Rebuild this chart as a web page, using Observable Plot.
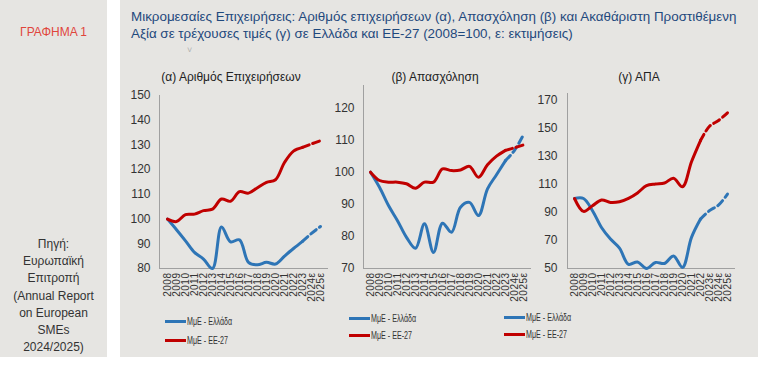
<!DOCTYPE html>
<html><head><meta charset="utf-8">
<script src="https://cdn.jsdelivr.net/npm/d3@7"></script>
<script src="https://cdn.jsdelivr.net/npm/@observablehq/plot@0.6"></script>
<style>
body{margin:0;background:#fff;font-family:Arial,"Liberation Sans",sans-serif;}
#wrap{position:relative;width:765px;height:365px;overflow:hidden;background:#fff;}
.box{position:absolute;background:#e6e5e2;}
.abs{position:absolute;white-space:nowrap;}
.leg{position:absolute;display:flex;align-items:center;height:12px;font-size:10.5px;color:#333;white-space:nowrap;}
.leg span.sw{display:inline-block;width:21px;height:3px;margin-right:1px;}
.leg span.tx{display:inline-block;transform:scaleX(0.68);transform-origin:left center;}
svg{position:absolute;overflow:visible;}
</style></head><body>
<div id="wrap">
  <div class="box" style="left:0;top:0;width:107px;height:357px;"></div>
  <div class="box" style="left:120px;top:0;width:638px;height:357px;"></div>
</div>
<script>
// ---- data ----
const labelsAB = ["2008","2009","2010","2011","2012","2013","2014","2015","2016","2017","2018","2019","2020","2021","2022","2023","2024ε","2025ε"];
const labelsC  = ["2008","2009","2010","2011","2012","2013","2014","2015","2016","2017","2018","2019","2020","2021","2022","2023ε","2024ε","2025ε"];
const aGreece = [100, 95.7, 91.2, 86.5, 83.8, 80, 96.8, 90.8, 91.6, 82.5, 81.5, 82.5, 81.8, 85, 88.1, 91, 94.2, 97];
const aEU     = [100, 99, 101.8, 102, 103.4, 104, 108.1, 107.2, 111.1, 110.5, 112.7, 114.8, 115.9, 122.9, 127.5, 129, 130.4, 131.7];
const bGreece = [100, 95.3, 89.6, 84.9, 79.7, 76.3, 83.9, 75, 84.1, 81.3, 89.1, 90.6, 86.5, 94.8, 99.2, 103.6, 106.8, 111.7];
const bEU     = [100, 97.4, 96.9, 96.9, 96.4, 95, 96.9, 96.9, 101, 100.5, 100.7, 101.8, 98.4, 102.3, 105, 106.8, 107.6, 108.5];
const cGreece = [100, 100, 91.3, 79.3, 71, 64.5, 53, 54.7, 50, 54.3, 53.6, 59, 50.8, 72.2, 85.3, 91.3, 95.3, 103.2];
const cEU     = [100, 90.8, 94.8, 98.9, 97.2, 97.7, 100.1, 104, 109.2, 110.4, 111.1, 114.4, 108.4, 126.3, 141.4, 151.6, 155.7, 161.2];
const seriesNames = ["ΜμΕ - Ελλάδα", "ΜμΕ - ΕΕ-27"];
const seriesColors = ["#2e75b6", "#c00000"];
const panelTitles = ["(α) Αριθμός Επιχειρήσεων", "(β) Απασχόληση", "(γ) ΑΠΑ"];
const titleLines = ["Μικρομεσαίες Επιχειρήσεις: Αριθμός επιχειρήσεων (α), Απασχόληση (β) και Ακαθάριστη Προστιθέμενη",
                    "Αξία σε τρέχουσες τιμές (γ) σε Ελλάδα και ΕΕ-27 (2008=100, ε: εκτιμήσεις)"];
const chartLabel = "ΓΡΑΦΗΜΑ 1";
const sourceLines = ["Πηγή:", "Ευρωπαϊκή", "Επιτροπή", "(Annual Report", "on European", "SMEs", "2024/2025)"];
const ticksA = [80, 90, 100, 110, 120, 130, 140, 150];
const ticksB = [70, 80, 90, 100, 110, 120];
const ticksC = [50, 70, 90, 110, 130, 150, 170];

const wrap = document.getElementById("wrap");
const FONT = "Arial, 'Liberation Sans', sans-serif";

function addDiv(html, style, cls = "abs") {
  const d = document.createElement("div");
  d.className = cls;
  d.innerHTML = html;
  Object.assign(d.style, style);
  wrap.appendChild(d);
  return d;
}

function panel(o) {
  const rows = (vals, s) => vals.map((v, i) => ({label: o.labels[i], value: v, s, i}));
  const series = [rows(o.greece, 0), rows(o.eu, 1)];
  const marks = [
    Plot.frame({anchor: "left", stroke: "#a0a0a0"}),
    Plot.frame({anchor: "bottom", stroke: "#a0a0a0"}),
    Plot.axisY({ticks: o.ticks, tickSize: 0, tickPadding: o.tickPadding, fontSize: 12, label: null, fill: "#333"}),
    Plot.axisX({tickRotate: -90, tickSize: 0, tickPadding: 4, fontSize: 10, label: null, fill: "#333"})
  ];
  series.forEach((d, s) => {
    marks.push(Plot.line(d.filter(r => r.i <= o.k), {x: "label", y: "value", stroke: seriesColors[s], strokeWidth: 3, curve: "catmull-rom"}));
    marks.push(Plot.line(d.filter(r => r.i >= o.k), {x: "label", y: "value", stroke: seriesColors[s], strokeWidth: 3, curve: "catmull-rom", strokeDasharray: "7,4"}));
  });
  const svg = Plot.plot({
    width: o.width, height: 235,
    marginLeft: o.marginLeft, marginRight: 5, marginTop: o.marginTop, marginBottom: 47,
    style: {background: "transparent", fontFamily: FONT, color: "#333", overflow: "visible"},
    x: {type: "point", domain: o.labels, padding: o.padding},
    y: {domain: o.yDomain},
    marks
  });
  svg.style.left = o.left + "px";
  svg.style.top = "80px";
  wrap.appendChild(svg);
  d3.select(svg).selectAll('g[aria-label="x-axis tick label"] text').attr("letter-spacing", "0.5px");
}

panel({labels: labelsAB, greece: aGreece, eu: aEU, k: 15, yDomain: [80, 150], ticks: ticksA, left: 120, width: 212, marginLeft: 39, marginTop: 15, padding: 0.45, tickPadding: 9});
panel({labels: labelsAB, greece: bGreece, eu: bEU, k: 15, yDomain: [70, 127], ticks: ticksB, left: 325, width: 210, marginLeft: 38, marginTop: 5, padding: 0.5, tickPadding: 9});
panel({labels: labelsC, greece: cGreece, eu: cEU, k: 14, yDomain: [50, 175], ticks: ticksC, left: 530, width: 209, marginLeft: 37, marginTop: 13, padding: 0.4, tickPadding: 10});

// panel titles
const titleCenters = [231, 435, 639];
panelTitles.forEach((t, i) => {
  addDiv(t, {left: (titleCenters[i] - 100) + "px", width: "200px", textAlign: "center", top: "69px", lineHeight: "16px", fontSize: "12px", color: "#222"});
});

// main title
addDiv(titleLines.join("<br>"), {left: "131px", top: "8px", lineHeight: "17px", fontSize: "13.4px", color: "#1f497d"});
addDiv("˅", {left: "187px", top: "44px", lineHeight: "12px", fontSize: "9px", color: "#b0b0b0"});
addDiv(chartLabel, {left: "0px", width: "107px", textAlign: "center", top: "24px", lineHeight: "16px", fontSize: "12px", color: "#e0453c"});
addDiv(sourceLines.join("<br>"), {left: "0px", width: "107px", textAlign: "center", top: "236px", lineHeight: "17.2px", fontSize: "12px", color: "#333"});

// legends
const legPos = [[165, 321, 340], [349, 318, 335], [504, 317, 334]];
legPos.forEach(([x, y0, y1]) => {
  [y0, y1].forEach((y, s) => {
    addDiv(`<span class="sw" style="background:${seriesColors[s]}"></span><span class="tx">${seriesNames[s]}</span>`, {left: x + "px", top: (y - 6) + "px"}, "leg");
  });
});
</script>
</body></html>
